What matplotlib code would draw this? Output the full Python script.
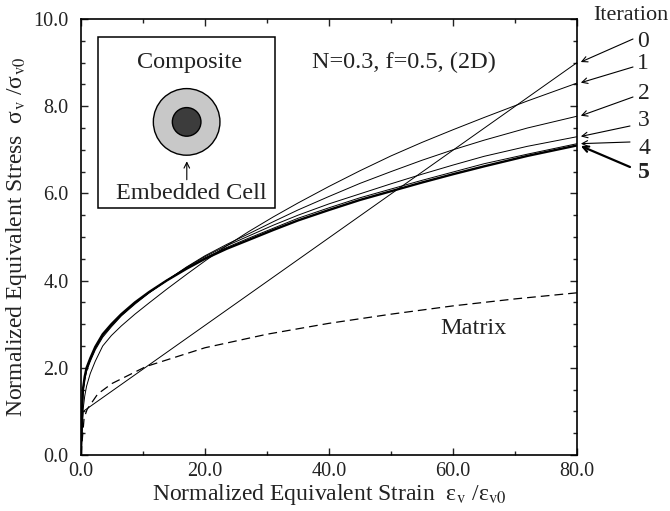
import numpy as np
import matplotlib
matplotlib.use("Agg")
import matplotlib.pyplot as plt
from matplotlib.patches import Rectangle, Ellipse
from matplotlib.ticker import MultipleLocator, FormatStrFormatter

plt.rcParams["font.family"] = ["Liberation Serif", "DejaVu Serif"]
plt.rcParams["mathtext.fontset"] = "stix"

# strain grid (shared by the composite curves)
strain = [0, 0.1, 0.3, 0.6, 0.9, 1.5, 2.3, 3.5, 4.9, 6.5, 8.7, 11, 13.8, 17,
          20, 23.5, 27, 31, 35, 40, 45, 50, 55, 60, 65, 72, 80]

iter1 = [0, 0.45, 1.0, 1.35, 1.58, 1.87, 2.15, 2.5, 2.74, 2.96, 3.23, 3.49, 3.8, 4.14,
         4.45, 4.8, 5.12, 5.46, 5.78, 6.16, 6.52, 6.86, 7.17, 7.46, 7.74, 8.12, 8.53]
iter2 = [0, 0.67, 1.43, 1.72, 1.92, 2.15, 2.41, 2.7, 2.94, 3.19, 3.46, 3.72, 4.0, 4.31,
         4.57, 4.83, 5.07, 5.35, 5.62, 5.93, 6.23, 6.5, 6.76, 7.0, 7.22, 7.5, 7.77]
iter3 = [0, 0.69, 1.46, 1.76, 1.96, 2.18, 2.44, 2.73, 2.96, 3.2, 3.48, 3.73, 4.0, 4.3,
         4.55, 4.8, 5.02, 5.27, 5.5, 5.76, 5.99, 6.22, 6.44, 6.65, 6.85, 7.08, 7.3]
iter4 = [0, 0.7, 1.48, 1.78, 1.98, 2.2, 2.46, 2.75, 2.98, 3.21, 3.49, 3.73, 4.0, 4.28,
         4.52, 4.76, 4.97, 5.2, 5.43, 5.67, 5.9, 6.1, 6.3, 6.49, 6.68, 6.9, 7.14]
iter5 = [0, 0.7, 1.49, 1.8, 2.0, 2.22, 2.48, 2.77, 3.0, 3.23, 3.5, 3.74, 4.0, 4.27,
         4.5, 4.73, 4.93, 5.16, 5.38, 5.62, 5.85, 6.05, 6.25, 6.44, 6.62, 6.86, 7.1]

# iteration 0 is a bilinear line
iter0_strain = [0, 0.35, 80]
iter0 = [0, 1.0, 9.0]

# matrix (dashed)
matrix_strain = [0, 0.5, 1, 2.7, 5, 10.5, 20, 30, 40, 50, 60, 70, 80]
matrix = [0, 0.85, 1.05, 1.4, 1.64, 2.03, 2.46, 2.77, 3.02, 3.23, 3.42, 3.58, 3.72]

iter_labels = ["0", "1", "2", "3", "4", "5"]

TXT = "#222222"

fig = plt.figure(figsize=(6.7, 5.11), dpi=100)
ax = fig.add_axes([81 / 670, 56 / 511, 496 / 670, 436 / 511])

thin = 0.7
ax.plot(iter0_strain, iter0, color="black", lw=thin)
for ys in (iter1, iter2, iter3, iter4):
    ax.plot(strain, ys, color="black", lw=thin)
ax.plot(strain, iter5, color="black", lw=1.7)
ax.plot(matrix_strain, matrix, color="black", lw=0.9, dashes=(7, 4))

ax.set_xlim(0, 80)
ax.set_ylim(0, 10)
ax.xaxis.set_major_locator(MultipleLocator(20))
ax.xaxis.set_minor_locator(MultipleLocator(10))
ax.yaxis.set_major_locator(MultipleLocator(2))
ax.yaxis.set_minor_locator(MultipleLocator(0.5))
ax.xaxis.set_major_formatter(FormatStrFormatter("%.1f"))
ax.yaxis.set_major_formatter(FormatStrFormatter("%.1f"))
ax.tick_params(which="both", direction="in", top=True, right=True,
               labelsize=14.5, width=1.0, colors=TXT)
ax.tick_params(which="major", length=5)
ax.tick_params(which="minor", length=3)
ax.tick_params(axis="x", which="major", pad=5)
ax.tick_params(axis="y", which="major", pad=9)
for sp in ax.spines.values():
    sp.set_linewidth(1.2)

ax.set_xlabel("Normalized Equivalent Strain  ε$_{\\rm v}$ /ε$_{\\rm v0}$",
              fontsize=17, labelpad=1, color=TXT)
ax.set_ylabel("Normalized Equivalent Stress  σ$_{\\rm v}$ /σ$_{\\rm v0}$",
              fontsize=17, labelpad=3, color=TXT)

# inset sketch
ax.add_patch(Rectangle((0.0337, 0.566), 0.357, 0.392, transform=ax.transAxes,
                       facecolor="white", edgecolor="black", lw=1.1, zorder=5))
ax.text(0.218, 0.9, "Composite", transform=ax.transAxes, ha="center", va="center",
        fontsize=17.5, color=TXT, zorder=6)
ax.add_patch(Ellipse((0.213, 0.764), 0.1343, 0.1528, transform=ax.transAxes,
                     facecolor="#c8c8c8", edgecolor="black", lw=1.0, zorder=6))
ax.add_patch(Ellipse((0.213, 0.764), 0.0577, 0.0656, transform=ax.transAxes,
                     facecolor="#3c3c3c", edgecolor="black", lw=1.0, zorder=7))
ax.annotate("", xy=(0.2133, 0.68), xytext=(0.2133, 0.625), xycoords="axes fraction",
            arrowprops=dict(arrowstyle="->", lw=0.8, color="black"), zorder=7)
ax.text(0.223, 0.6, "Embedded Cell", transform=ax.transAxes, ha="center", va="center",
        fontsize=17.5, color=TXT, zorder=6)

ax.text(0.466, 0.9, "N=0.3, f=0.5, (2D)", transform=ax.transAxes, ha="left", va="center",
        fontsize=17.5, color=TXT)
ax.text(63.3, 2.89, "Matrix", ha="center", va="center", fontsize=17.5, color=TXT)

# iteration call-outs
ends = [iter0[-1], iter1[-1], iter2[-1], iter3[-1], iter4[-1], iter5[-1]]
tails = [(633, 472), (633, 444), (633, 414), (630, 385), (630, 369), (630, 344)]
label_pos = [(643, 470), (643, 448), (644, 418), (644, 391), (644, 363), (644, 339)]
fig.text(593, 496, "Iteration", transform=None, ha="left", va="center",
         fontsize=16, color=TXT)
for i, (val, tail, lp) in enumerate(zip(ends, tails, label_pos)):
    bold = i == 5
    ax.annotate("", xy=(80.4, val), xycoords="data", xytext=tail,
                textcoords="figure pixels", annotation_clip=False,
                arrowprops=dict(arrowstyle="->", lw=1.6 if bold else 0.8,
                                color="black", shrinkA=0, shrinkB=1))
    fig.text(lp[0], lp[1], iter_labels[i], transform=None, ha="center", va="center",
             fontsize=17, color=TXT, fontweight="bold" if bold else "normal")

fig.savefig("out.png", dpi=100)
